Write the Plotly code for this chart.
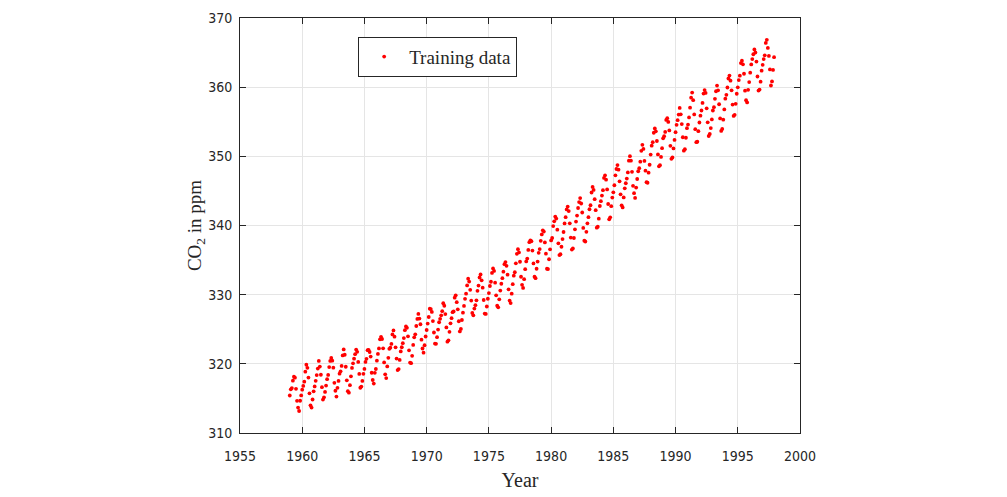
import plotly.graph_objects as go

start_year = 1959
co2_ppm = [
315.42,316.31,316.50,317.56,318.13,318.00,316.39,314.65,313.68,313.18,314.66,315.43,
316.27,316.81,317.42,318.87,319.87,319.43,318.01,315.74,314.00,313.68,314.84,316.03,
316.73,317.54,318.38,319.31,320.42,319.61,318.42,316.63,314.83,315.16,315.94,316.85,
317.78,318.40,319.53,320.42,320.85,320.45,319.45,317.25,316.11,315.27,316.53,317.53,
318.58,318.92,319.70,321.22,322.08,321.31,319.58,317.61,316.05,315.83,316.91,318.20,
319.41,320.07,320.74,321.40,322.06,321.73,320.27,318.54,316.54,316.71,317.53,318.55,
319.27,320.28,320.73,321.97,322.00,321.71,321.05,318.71,317.66,317.14,318.70,319.25,
320.46,321.43,322.23,323.54,323.91,323.59,322.24,320.20,318.48,317.94,319.63,320.87,
322.17,322.34,322.88,324.25,324.83,323.93,322.38,320.76,319.10,319.24,320.56,321.80,
322.40,322.99,323.73,324.86,325.40,325.20,323.98,321.95,320.18,320.09,321.16,322.74,
323.83,324.26,325.47,326.50,327.21,326.54,325.72,323.50,322.22,321.62,322.69,323.95,
324.89,325.82,326.77,327.97,327.91,327.50,326.18,324.53,322.93,322.90,323.85,324.96,
326.01,326.51,327.01,327.62,328.76,328.40,327.20,325.27,323.20,323.40,324.63,325.85,
326.60,327.47,327.58,329.56,329.90,328.92,327.88,326.16,324.68,325.04,326.34,327.39,
328.37,329.40,330.14,331.33,332.31,331.90,330.70,329.15,327.35,327.02,327.99,328.48,
329.18,330.55,331.32,332.48,332.92,332.08,331.01,329.23,327.27,327.21,328.29,329.41,
330.23,331.25,331.87,333.14,333.80,333.43,331.73,329.90,328.40,328.17,329.32,330.59,
331.58,332.39,333.33,334.41,334.71,334.17,332.89,330.77,329.14,328.78,330.14,331.52,
332.75,333.24,334.53,335.90,336.57,336.10,334.76,332.59,331.42,330.98,332.24,333.68,
334.80,335.22,336.47,337.59,337.84,337.72,336.37,334.51,332.60,332.38,333.75,334.78,
336.05,336.59,337.79,338.71,339.30,339.12,337.56,335.92,333.75,333.70,335.12,336.56,
337.84,338.19,339.91,340.60,341.29,341.00,339.39,337.43,335.72,335.84,336.93,338.04,
339.06,340.30,341.21,342.33,342.74,342.08,340.32,338.26,336.52,336.68,338.19,339.44,
340.57,341.44,342.53,343.39,343.96,343.18,341.88,339.65,337.81,337.69,339.09,340.32,
341.20,342.35,342.93,344.77,345.58,345.14,343.81,342.21,339.69,339.82,340.98,342.82,
343.52,344.33,345.11,346.88,347.25,346.62,345.22,343.11,340.90,341.18,342.80,344.04,
344.79,345.82,347.25,348.17,348.74,348.07,346.38,344.51,342.92,342.62,344.06,345.38,
346.11,346.78,347.68,349.37,350.03,349.37,347.76,345.73,344.68,343.99,345.48,346.72,
347.84,348.29,349.23,350.80,351.66,351.07,349.33,347.92,346.27,346.18,347.64,348.78,
350.25,351.54,352.05,353.41,354.04,353.62,352.22,350.27,348.55,348.72,349.91,351.18,
352.60,352.92,353.53,355.26,355.52,354.97,353.75,351.52,349.64,349.83,351.14,352.37,
353.50,354.55,355.23,356.04,357.00,356.07,354.67,352.76,350.82,351.04,352.69,354.07,
354.59,355.63,357.03,358.48,359.22,358.12,356.06,353.92,352.05,352.11,353.64,354.89,
355.88,356.63,357.72,359.07,359.58,359.17,356.94,354.92,352.94,353.23,354.09,355.33,
356.63,357.10,358.32,359.41,360.23,359.55,357.53,355.48,353.67,353.95,355.30,356.78,
358.34,358.89,359.95,361.25,361.67,360.94,359.55,357.49,355.84,356.00,357.59,359.05,
359.98,361.03,361.66,363.48,363.82,363.30,361.94,359.50,358.11,357.80,359.61,360.74,
362.09,363.29,364.06,364.76,365.45,365.01,363.70,361.54,359.51,359.65,360.80,362.38,
363.23,364.06,364.61,366.40,366.84,365.68,364.52,362.57,360.24,360.83,362.49,364.34,
]
x_ticks = [1955, 1960, 1965, 1970, 1975, 1980, 1985, 1990, 1995, 2000]
y_ticks = [310, 320, 330, 340, 350, 360, 370]

t = [start_year + i / 12 for i in range(len(co2_ppm))]

fig = go.Figure()
fig.add_trace(go.Scatter(
    x=t, y=co2_ppm, mode="markers", name="Training data",
    marker=dict(color="#ff0000", size=3.8),
))

tickfont = dict(family="Liberation Sans Narrow, Arial Narrow, DejaVu Sans Condensed, Liberation Sans", size=14, color="#262626")
axis_common = dict(
    showline=True, linecolor="#262626", linewidth=1, mirror="ticks",
    ticks="inside", ticklen=6, tickcolor="#262626",
    showgrid=True, gridcolor="#e5e5e5", gridwidth=1, zeroline=False,
    tickfont=tickfont, automargin=False,
)
fig.update_xaxes(range=[1955, 2000], tickvals=x_ticks, ticklabelstandoff=10,
                 title=dict(text="Year", font=dict(family="Liberation Serif, Times New Roman", size=20, color="#262626"), standoff=10),
                 **axis_common)
fig.update_yaxes(range=[310, 370], tickvals=y_ticks, ticklabelstandoff=4,
                 title=dict(text="CO<sub>2</sub> in ppm", font=dict(family="Liberation Serif, Times New Roman", size=19, color="#262626"), standoff=0),
                 **axis_common)
fig.update_layout(
    width=1007, height=497,
    margin=dict(l=240, r=207, t=18, b=64),
    paper_bgcolor="white", plot_bgcolor="white",
    showlegend=True,
    legend=dict(x=0.211, y=0.955, xanchor="left", yanchor="top",
                bgcolor="white", bordercolor="#262626", borderwidth=1,
                font=dict(family="Liberation Serif, Times New Roman", size=19, color="#262626"),
                itemwidth=40),
)
fig.write_html("out.html")
